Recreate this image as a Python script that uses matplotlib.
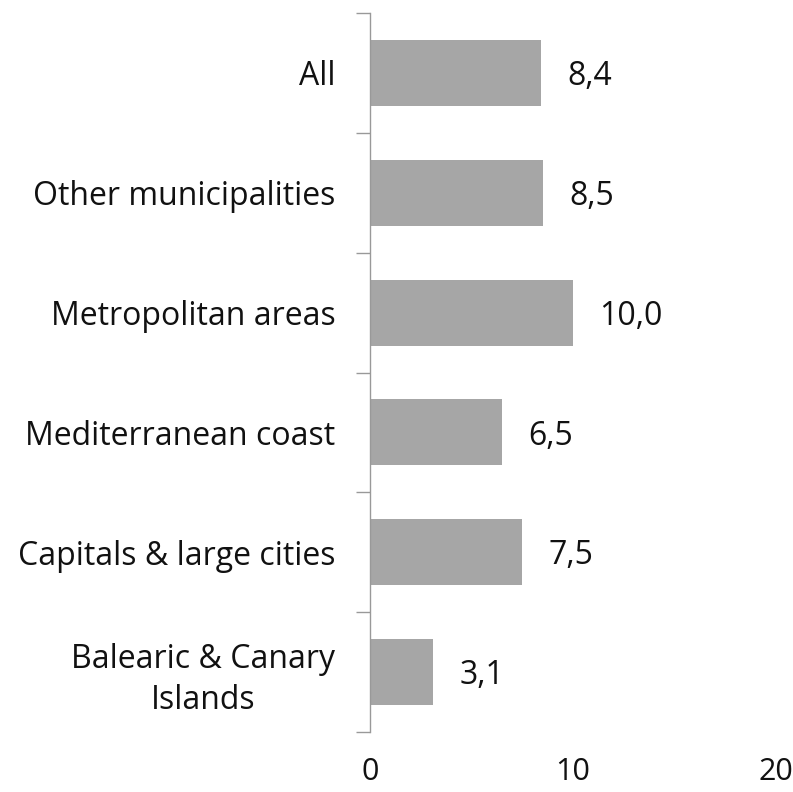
import matplotlib
matplotlib.use("Agg")
import matplotlib.pyplot as plt
import numpy as np

categories = ["All", "Other municipalities", "Metropolitan areas",
              "Mediterranean coast", "Capitals & large cities",
              "Balearic & Canary\nIslands"]
values = [8.4, 8.5, 10.0, 6.5, 7.5, 3.1]
value_labels = ["8,4", "8,5", "10,0", "6,5", "7,5", "3,1"]
xticks = [0, 10, 20]

plt.rcParams['font.family'] = ['Open Sans', 'DejaVu Sans']

fig = plt.figure(figsize=(7.93, 7.92), dpi=100)
ax = fig.add_axes([370/793, 1-732/792, (776-370)/793, (732-13)/792])

n = len(categories)
y = np.arange(n)
ax.barh(y, values, height=0.55, color="#A6A6A6")
for yi, v, lab in zip(y, values, value_labels):
    ax.text(v + 1.3, yi + 0.03, lab, va="center", ha="left", fontsize=23, color="#111111")

ax.set_ylim(n - 0.5, -0.5)
ax.set_xlim(0, 20)
ax.set_yticks(y)
ax.set_yticklabels(categories, fontsize=23, color="#111111", ha="right",
                   multialignment="center", linespacing=1.3)
ax.set_yticks(np.arange(n + 1) - 0.5, minor=True)
ax.tick_params(axis="y", which="major", length=0, pad=25)
ax.tick_params(axis="y", which="minor", length=10, width=1, color="#999999")
ax.set_xticks(xticks)
ax.set_xticklabels([str(t) for t in xticks], fontsize=22, color="#111111")
ax.tick_params(axis="x", length=0, pad=18)

for s in ["top", "right", "bottom"]:
    ax.spines[s].set_visible(False)
ax.spines["left"].set_color("#999999")
ax.spines["left"].set_linewidth(1)

fig.savefig("out.png", dpi=100)
